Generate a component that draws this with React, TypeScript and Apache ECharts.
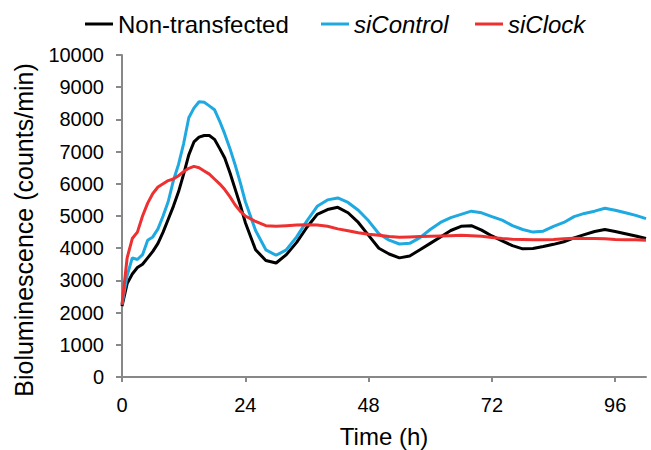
import React, { useEffect, useRef } from "react";
import * as echarts from "echarts";

const hours = [0,1,2,3,4,5,6,7,8,9,10,11,12,13,14,15,16,17,18,19,20,21,22,23,24,26,28,30,32,34,36,38,40,42,44,46,48,50,52,54,56,58,60,62,64,66,68,70,72,74,76,78,80,82,84,86,88,90,92,94,96,98,100,102];

const nonTransfected = [2200,2900,3200,3400,3500,3700,3900,4150,4500,4900,5300,5750,6300,6900,7300,7450,7500,7500,7380,7100,6800,6350,5850,5350,4800,3950,3620,3540,3800,4180,4650,5050,5200,5270,5100,4800,4400,4000,3820,3700,3760,3950,4150,4350,4550,4680,4700,4560,4380,4230,4080,3980,3990,4050,4120,4200,4320,4420,4520,4580,4520,4450,4380,4300];

const siControl = [2250,3150,3700,3650,3800,4250,4350,4600,5000,5450,6100,6600,7250,8050,8350,8550,8530,8420,8300,7950,7550,7100,6600,6050,5450,4550,3950,3780,3950,4350,4850,5300,5500,5560,5420,5180,4850,4450,4250,4130,4150,4330,4580,4800,4950,5050,5150,5100,4980,4870,4700,4580,4500,4530,4680,4800,4980,5080,5150,5240,5180,5100,5020,4920];

const siClock = [2250,3700,4300,4500,5000,5400,5700,5900,6000,6100,6150,6250,6380,6480,6540,6500,6400,6300,6150,6000,5820,5600,5350,5150,5000,4830,4700,4680,4700,4720,4730,4720,4680,4600,4540,4480,4430,4400,4360,4340,4350,4360,4370,4380,4390,4400,4390,4370,4330,4300,4280,4270,4260,4260,4270,4290,4310,4300,4300,4290,4270,4260,4260,4250];

const xTicks = [0, 24, 48, 72, 96];
const seriesNames = ["Non-transfected", "siControl", "siClock"];
const colors = ["#000000", "#1FA9E1", "#EE3030"];

const FONT = "'Liberation Sans', Arial, sans-serif";

export default function App() {
  const ref = useRef<HTMLDivElement>(null);
  useEffect(() => {
    if (!ref.current) return;
    const chart = echarts.init(ref.current, null, { renderer: "svg" });
    const allData = [nonTransfected, siControl, siClock];
    const legendLefts = [80, 316, 470];
    chart.setOption({
      animation: false,
      backgroundColor: "#ffffff",
      grid: { left: 122, right: 5, top: 55, bottom: 73, containLabel: false },
      legend: seriesNames.map((n, i) => ({
        left: legendLefts[i],
        top: 7,
        icon: "rect",
        itemWidth: 28,
        itemHeight: 3,
        itemGap: 0,
        selectedMode: false,
        textStyle: {
          fontSize: 24,
          fontFamily: FONT,
          color: "#000",
          fontStyle: i === 0 ? "normal" : "italic",
        },
        data: [{ name: n }],
      })),
      xAxis: {
        type: "value",
        min: 0,
        max: 102,
        interval: 24,
        splitLine: { show: false },
        axisLine: { show: true, lineStyle: { color: "#888888", width: 2 } },
        axisTick: { show: true, length: 5, customValues: xTicks, lineStyle: { color: "#888888", width: 2 } },
        axisLabel: {
          customValues: xTicks,
          margin: 18,
          fontSize: 20,
          fontFamily: FONT,
          color: "#000",
        },
      },
      yAxis: {
        type: "value",
        min: 0,
        max: 10000,
        interval: 1000,
        splitLine: { show: false },
        axisLine: { show: true, lineStyle: { color: "#888888", width: 2 } },
        axisTick: { show: true, length: 6, lineStyle: { color: "#888888", width: 2 } },
        axisLabel: {
          margin: 18,
          fontSize: 20,
          fontFamily: FONT,
          color: "#000",
          formatter: (v: number) => String(v),
        },
      },
      graphic: [
        {
          type: "text",
          x: 384,
          y: 436,
          style: {
            text: "Time (h)",
            font: `24px ${FONT}`,
            fill: "#000",
            textAlign: "center",
            textVerticalAlign: "middle",
          },
        },
        {
          type: "text",
          x: 24,
          y: 230,
          rotation: Math.PI / 2,
          style: {
            text: "Bioluminescence (counts/min)",
            font: `25px ${FONT}`,
            fill: "#000",
            textAlign: "center",
            textVerticalAlign: "middle",
          },
        },
      ],
      series: seriesNames.map((n, i) => ({
        name: n,
        type: "line",
        showSymbol: false,
        symbol: "none",
        smooth: false,
        color: colors[i],
        lineStyle: { width: 3, color: colors[i] },
        data: hours.map((h, j) => [h, allData[i][j]]),
        z: i === 0 ? 2 : i === 1 ? 3 : 4,
      })),
    });
    return () => chart.dispose();
  }, []);
  return (
    <div
      ref={ref}
      style={{ position: "absolute", left: 0, top: 0, width: 651, height: 450 }}
    />
  );
}
